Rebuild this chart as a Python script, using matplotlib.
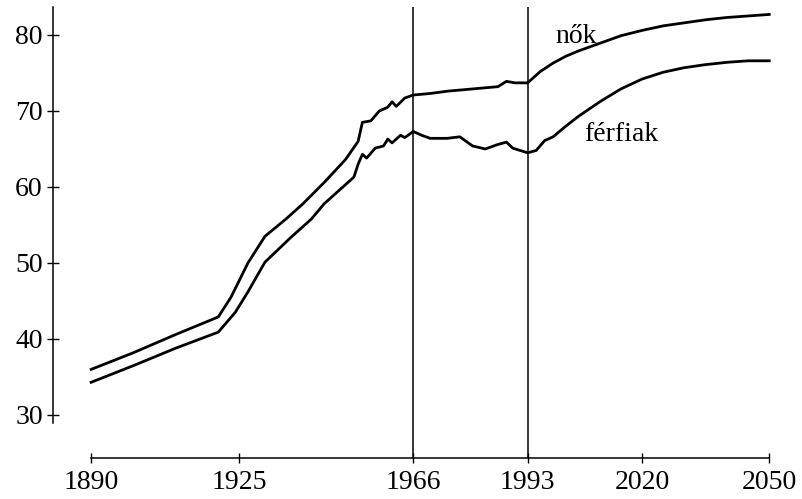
import matplotlib
matplotlib.use("Agg")
import matplotlib.pyplot as plt

plt.rcParams['font.family'] = ['Liberation Serif', 'DejaVu Serif']

years_w = [1890, 1900, 1910, 1920, 1923, 1927, 1931, 1936, 1940, 1945, 1950, 1952, 1953, 1954,
           1956, 1958, 1960, 1961, 1962, 1964, 1966, 1970, 1974, 1978, 1982, 1986, 1988, 1990,
           1993, 1996, 1999, 2002, 2005, 2010, 2015, 2020, 2025, 2030, 2035, 2040, 2045, 2050]
women = [36.0, 38.2, 40.6, 42.9, 45.5, 50.0, 53.5, 55.8, 57.8, 60.6, 63.6, 65.2, 66.0, 68.5,
         68.7, 70.0, 70.5, 71.2, 70.6, 71.7, 72.1, 72.3, 72.6, 72.8, 73.0, 73.2, 73.9, 73.7,
         73.7, 75.2, 76.3, 77.2, 77.9, 78.9, 79.9, 80.6, 81.2, 81.6, 82.0, 82.3, 82.5, 82.7]

years_m = [1890, 1900, 1910, 1920, 1924, 1927, 1931, 1937, 1942, 1945, 1950, 1952, 1953, 1954,
           1955, 1957, 1959, 1960, 1961, 1963, 1964, 1966, 1968, 1970, 1974, 1977, 1980, 1983,
           1986, 1988, 1989.5, 1993, 1995, 1997, 1999, 2002, 2005, 2010, 2015, 2020, 2025, 2030,
           2035, 2040, 2045, 2050]
men = [34.3, 36.5, 38.8, 40.9, 43.5, 46.2, 50.1, 53.3, 55.8, 57.8, 60.3, 61.3, 63.0, 64.3,
       63.8, 65.1, 65.4, 66.3, 65.8, 66.8, 66.5, 67.3, 66.8, 66.4, 66.4, 66.6, 65.4, 65.0,
       65.6, 65.9, 65.1, 64.5, 64.8, 66.1, 66.6, 68.0, 69.3, 71.2, 72.9, 74.2, 75.1, 75.7,
       76.1, 76.4, 76.6, 76.6]

xticks = [1890, 1925, 1966, 1993, 2020, 2050]
yticks = [30, 40, 50, 60, 70, 80]
vlines = [1966, 1993]
label_w = "nők"
label_m = "férfiak"

fig = plt.figure(figsize=(8.03, 4.99), dpi=100)
ax = fig.add_axes([53/803, 41/499, (790-53)/803, (458-7)/499])

ax.plot(years_w, women, color='black', lw=2.0, solid_joinstyle='round')
ax.plot(years_m, men, color='black', lw=2.0, solid_joinstyle='round')
for v in vlines:
    ax.axvline(v, color='black', lw=1.1)

ax.set_xlim(1881.0, 2054.9)
ax.set_ylim(24.34, 83.68)

for s in ['top', 'right']:
    ax.spines[s].set_visible(False)
ax.spines['left'].set_bounds(28.9, 83.68)
ax.spines['bottom'].set_bounds(1890, 2050)
ax.spines['left'].set_linewidth(1.1)
ax.spines['bottom'].set_linewidth(1.1)

ax.set_xticks(xticks)
ax.set_xticklabels([str(t) for t in xticks])
ax.set_yticks(yticks)
ax.tick_params(axis='y', direction='inout', length=8.6, width=1.0, labelsize=20, pad=3)
ax.tick_params(axis='x', direction='inout', length=7.2, width=1.0, labelsize=20, pad=5)

ax.text(2004.4, 78.9, label_w, ha='center', va='baseline', fontsize=20)
ax.text(2015.0, 66.0, label_m, ha='center', va='baseline', fontsize=20)

fig.savefig("out.png", dpi=100)
